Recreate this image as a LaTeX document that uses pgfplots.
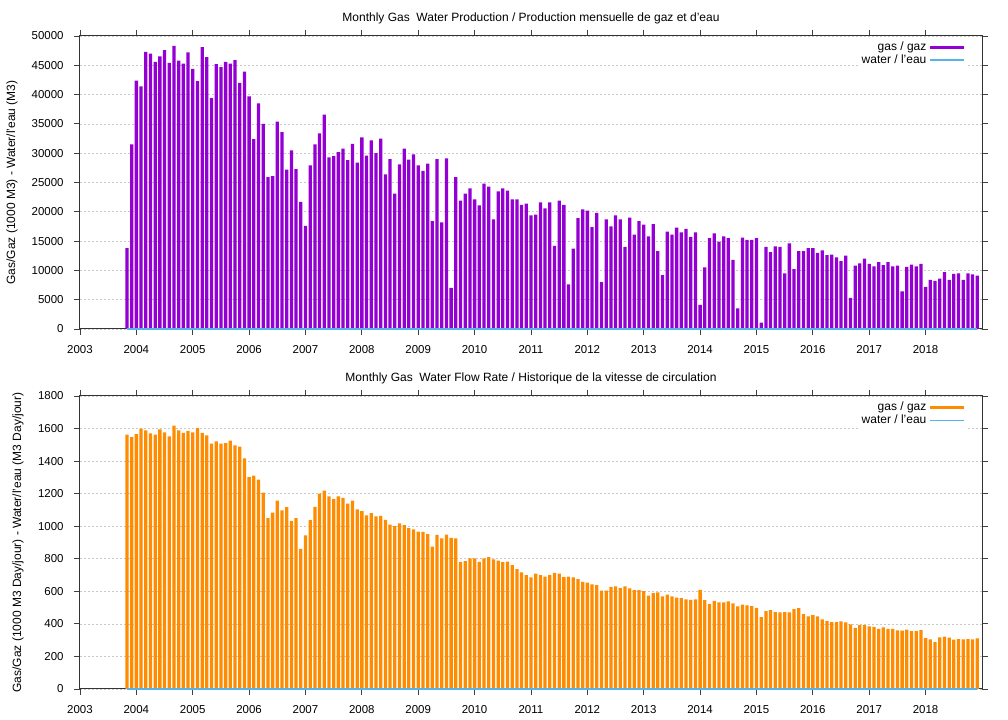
\documentclass[border=0pt]{standalone}
\usepackage{fontspec}
\setmainfont{Liberation Sans}
\usepackage{pgfplots}
\pgfplotsset{compat=1.18}
\usepackage{pgfplotstable}
\definecolor{gaspurple}{RGB}{148,0,211}
\definecolor{gasorange}{RGB}{255,140,0}
\definecolor{waterblue}{RGB}{86,180,233}
\definecolor{gridgray}{RGB}{200,200,200}

\pgfplotstableread{
t gas rate
2003.833 13800 1562
2003.917 31500 1548
2004.000 42400 1566
2004.083 41400 1599
2004.167 47300 1589
2004.250 47000 1571
2004.333 45600 1562
2004.417 46500 1595
2004.500 47600 1577
2004.583 45400 1552
2004.667 48300 1618
2004.750 45800 1589
2004.833 45300 1573
2004.917 47200 1585
2005.000 44400 1577
2005.083 42300 1603
2005.167 48100 1573
2005.250 46400 1558
2005.333 39400 1507
2005.417 45200 1521
2005.500 44700 1507
2005.583 45600 1511
2005.667 45300 1526
2005.750 45900 1497
2005.833 42000 1489
2005.917 43900 1417
2006.000 39700 1301
2006.083 32400 1311
2006.167 38500 1286
2006.250 35000 1207
2006.333 25900 1049
2006.417 26100 1084
2006.500 35400 1157
2006.583 33600 1098
2006.667 27200 1117
2006.750 30500 1033
2006.833 27300 1049
2006.917 21700 861
2007.000 17600 943
2007.083 27900 1037
2007.167 31500 1119
2007.250 33400 1200
2007.333 36600 1219
2007.417 29300 1184
2007.500 29500 1166
2007.583 30200 1184
2007.667 30800 1174
2007.750 28800 1139
2007.833 31600 1157
2007.917 28400 1104
2008.000 32700 1092
2008.083 29600 1067
2008.167 32200 1080
2008.250 30000 1061
2008.333 32500 1063
2008.417 26400 1039
2008.500 29000 1010
2008.583 23100 1000
2008.667 28100 1018
2008.750 30800 1006
2008.833 28900 988
2008.917 29800 980
2009.000 27900 967
2009.083 27000 965
2009.167 28200 951
2009.250 18400 875
2009.333 29000 947
2009.417 18200 926
2009.500 29100 949
2009.583 7000 928
2009.667 25900 926
2009.750 21900 779
2009.833 23100 785
2009.917 24000 802
2010.000 22100 802
2010.083 21100 781
2010.167 24800 802
2010.250 24300 810
2010.333 18700 796
2010.417 23500 789
2010.500 24000 779
2010.583 23600 783
2010.667 22100 761
2010.750 22100 736
2010.833 21200 716
2010.917 21400 699
2011.000 19400 685
2011.083 19500 708
2011.167 21600 699
2011.250 20600 691
2011.333 21600 699
2011.417 14200 714
2011.500 21900 708
2011.583 21200 687
2011.667 7600 691
2011.750 13700 685
2011.833 18900 675
2011.917 20400 658
2012.000 20200 654
2012.083 17400 642
2012.167 19800 638
2012.250 8000 605
2012.333 18700 605
2012.417 17500 628
2012.500 19400 630
2012.583 18700 620
2012.667 14000 630
2012.750 19000 618
2012.833 16100 607
2012.917 18400 607
2013.000 17800 601
2013.083 15800 573
2013.167 17900 589
2013.250 13300 593
2013.333 9200 569
2013.417 16600 579
2013.500 16100 569
2013.583 17300 562
2013.667 16500 558
2013.750 17100 550
2013.833 15700 548
2013.917 16500 550
2014.000 4100 609
2014.083 10500 546
2014.167 15500 521
2014.250 16300 542
2014.333 14900 532
2014.417 15800 532
2014.500 15500 538
2014.583 11800 526
2014.667 3500 507
2014.750 15600 519
2014.833 15200 513
2014.917 15200 509
2015.000 15500 499
2015.083 1100 442
2015.167 14000 479
2015.250 13100 485
2015.333 14100 472
2015.417 14000 470
2015.500 9500 472
2015.583 14600 470
2015.667 10200 491
2015.750 13300 497
2015.833 13300 460
2015.917 13800 446
2016.000 13800 454
2016.083 13000 446
2016.167 13400 427
2016.250 12600 417
2016.333 12700 411
2016.417 12200 411
2016.500 11600 415
2016.583 12500 409
2016.667 5300 397
2016.750 10800 376
2016.833 11200 393
2016.917 12000 393
2017.000 11100 384
2017.083 10700 382
2017.167 11400 370
2017.250 10900 378
2017.333 11400 370
2017.417 10700 370
2017.500 10800 360
2017.583 6400 358
2017.667 10600 364
2017.750 11000 356
2017.833 10700 356
2017.917 11100 362
2018.000 7200 313
2018.083 8400 305
2018.167 8200 288
2018.250 8600 317
2018.333 9700 321
2018.417 8400 315
2018.500 9400 303
2018.583 9500 307
2018.667 8400 305
2018.750 9500 307
2018.833 9300 305
2018.917 9100 311
}\datatable

\pgfplotstableread{
t water
2003.833 0
2018.917 0
}\watertable

\pgfplotsset{
  myaxis/.style={
    scale only axis, width=676.5pt, height=219.75pt,
    xmin=2003, xmax=2019, xtick={2003,2004,...,2018},
    ymin=0,
    scaled ticks=false,
    /pgf/number format/1000 sep={},
    /pgf/number format/assume math mode=true,
    tick align=outside, major tick length=4.5pt,
    tick style={black!75, line width=0.6pt},
    axis line style={black!80, line width=0.75pt},
    ymajorgrids,
    grid style={dash pattern=on 1.5pt off 1.5pt, gridgray, line width=0.5pt},
    tick label style={font=\fontsize{8.6}{10}\selectfont},
    yticklabel style={xshift=-4.3pt},
    xticklabel style={yshift=-4pt},
    every axis title/.style={at={(0.5,1)}, anchor=base, font=\fontsize{9}{10}\selectfont},
    every axis y label/.style={at={(axis description cs:0,0.5)}, rotate=90, anchor=center, font=\fontsize{9}{10}\selectfont},
    clip=false,
    legend image code/.code={\draw[##1] (0pt,0pt) -- (25.5pt,0pt);},
    legend cell align=right,
    legend plot pos=right,
    legend style={at={(axis description cs:1,1)}, anchor=north east, xshift=-11pt, yshift=-1.5pt,
      draw=none, fill=white, inner sep=1pt, row sep=-2.5pt,
      font=\fontsize{9}{10}\selectfont},
  }
}

\begin{document}
\begin{tikzpicture}
\useasboundingbox (0,0) rectangle (756pt,540pt);
\begin{axis}[myaxis, at={(60pt,293.25pt)}, anchor=south west,
  ymax=50000, ytick={0,5000,...,50000},
  title={Monthly Gas\ \ Water Production / Production mensuelle de gaz et d'eau},
  title style={yshift=11pt},
  ylabel={Gas/Gaz (1000 M3) - Water/l'eau (M3)},
  ylabel style={yshift=51pt},
]
\addplot[ybar, bar width=0.058, fill=gaspurple, draw=none, forget plot] table[x=t, y=gas]{\datatable};
\addplot[waterblue, line width=1.6pt, forget plot] table[x=t, y=water]{\watertable};
\addlegendimage{gaspurple, line width=2pt}
\addlegendentry{gas / gaz}
\addlegendimage{waterblue, line width=1.2pt}
\addlegendentry{water / l'eau}
\end{axis}

\begin{axis}[myaxis, at={(60pt,23.25pt)}, anchor=south west,
  ymax=1800, ytick={0,200,...,1800},
  title={Monthly Gas\ \ Water Flow Rate / Historique de la vitesse de circulation},
  title style={yshift=10.5pt},
  ylabel={Gas/Gaz (1000 M3 Day/jour) - Water/l'eau (M3 Day/jour)},
  ylabel style={yshift=46.5pt},
]
\addplot[ybar, bar width=0.058, fill=gasorange, draw=none, forget plot] table[x=t, y=rate]{\datatable};
\addplot[waterblue, line width=1.6pt, forget plot] table[x=t, y=water]{\watertable};
\addlegendimage{gasorange, line width=2pt}
\addlegendentry{gas / gaz}
\addlegendimage{waterblue, line width=1.2pt}
\addlegendentry{water / l'eau}
\end{axis}
\end{tikzpicture}
\end{document}
